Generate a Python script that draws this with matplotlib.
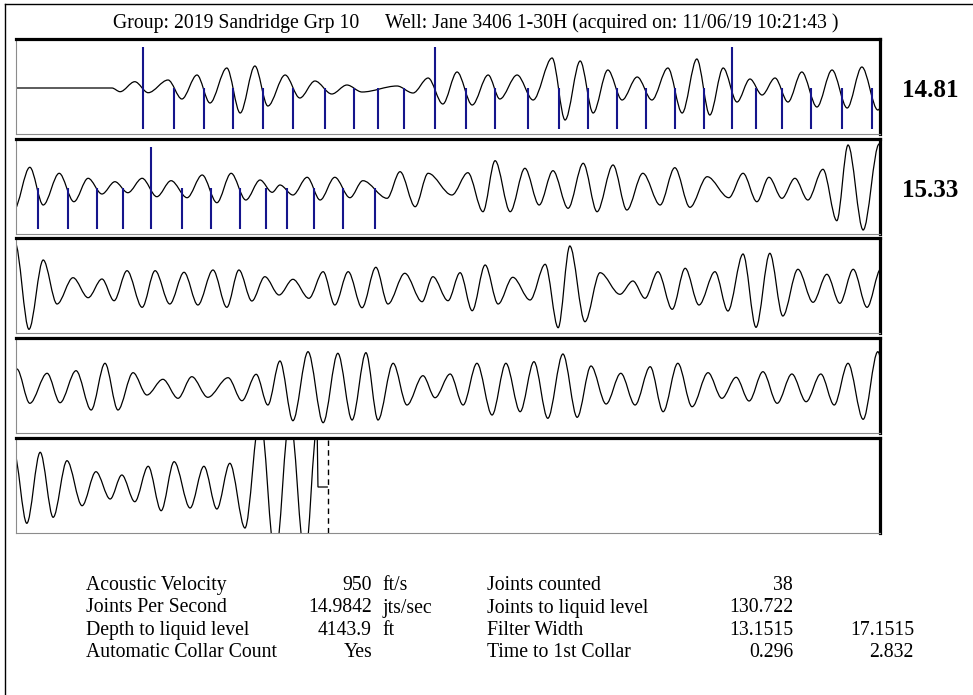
import matplotlib
matplotlib.use("Agg")
import matplotlib.pyplot as plt
from matplotlib.path import Path
from matplotlib.patches import PathPatch
from matplotlib.lines import Line2D

plt.rcParams["font.family"] = ["Liberation Serif", "DejaVu Serif"]

# acoustic trace: peaks/troughs (time in s, amplitude)
trace_t = [
    0.000, 0.222, 0.241, 0.275, 0.306, 0.352, 0.384, 0.419, 0.449, 0.488,
    0.519, 0.553, 0.583, 0.623, 0.657, 0.692, 0.731, 0.766, 0.801, 0.882,
    0.919, 0.954, 0.988, 1.021, 1.056, 1.093, 1.120, 1.160, 1.197, 1.241,
    1.271, 1.306, 1.336, 1.370, 1.403, 1.438, 1.472, 1.509, 1.542, 1.576,
    1.606, 1.637, 1.669, 1.699, 1.727, 1.757, 1.787, 1.819, 1.854, 1.889,
    1.924, 1.958, 1.995,
    2.032, 2.063, 2.100, 2.134, 2.167, 2.199, 2.229, 2.259, 2.292, 2.326,
    2.359, 2.396, 2.431, 2.465, 2.498, 2.532, 2.565, 2.593, 2.611, 2.641,
    2.674, 2.704, 2.738, 2.773, 2.803, 2.859, 2.889, 2.924, 2.954, 3.009,
    3.046, 3.081, 3.109, 3.144, 3.178, 3.211, 3.243, 3.278, 3.313, 3.345,
    3.382, 3.414, 3.451, 3.491, 3.525, 3.560, 3.600, 3.650, 3.683, 3.715,
    3.743, 3.773, 3.803, 3.833, 3.868, 3.900, 3.926, 3.961, 3.998,
    4.030, 4.063, 4.095, 4.132, 4.167, 4.199, 4.227, 4.257, 4.292, 4.322,
    4.356, 4.389, 4.421, 4.456, 4.488, 4.516, 4.546, 4.576, 4.609, 4.641,
    4.678, 4.711, 4.738, 4.769, 4.801, 4.833, 4.861, 4.900, 4.940, 4.965,
    5.000, 5.028, 5.056, 5.086, 5.116, 5.150, 5.190, 5.225, 5.255, 5.282,
    5.317, 5.352, 5.398, 5.428, 5.456, 5.486, 5.519, 5.549, 5.581, 5.618,
    5.648, 5.683, 5.713, 5.745, 5.775, 5.810, 5.845, 5.877, 5.907, 5.938,
    5.970, 6.002,
    6.032, 6.072, 6.102, 6.139, 6.174, 6.206, 6.236, 6.271, 6.303, 6.340,
    6.375, 6.407, 6.444, 6.491, 6.523, 6.556, 6.583, 6.611, 6.641, 6.676,
    6.711, 6.745, 6.778, 6.810, 6.838, 6.873, 6.905, 6.942, 6.970, 7.005,
    7.035, 7.067, 7.102, 7.134, 7.167, 7.199, 7.231, 7.266, 7.299, 7.331,
    7.366, 7.400, 7.433, 7.468, 7.498, 7.532, 7.565, 7.602, 7.634, 7.667,
    7.697, 7.729, 7.762, 7.796, 7.829, 7.863, 7.894, 7.926, 7.961, 7.995,
    8.025, 8.056, 8.086, 8.118, 8.153, 8.185, 8.218, 8.245, 8.275, 8.306,
    8.336, 8.366, 8.403, 8.435, 8.465, 8.495, 8.530, 8.565, 8.600, 8.634,
    8.669, 8.697,
]
trace_a = [
    0, 0, -3.7, 6.3, -4.7, 8, -11, 13, -15, 20,
    -25, 22, -18, 13, -10, 7, -6, 3, -4, 2,
    -5, 10, -16, 16, -17, 13, -11, 13, -12, 30,
    -32, 27, -25, 18, -12, 11, -12, 20, -25, 29,
    -27, 20, -14, 9, -7, 10, -14, 16, -19, 18,
    -20, 21, -22,
    20.7, -17, 14.7, -13.7, 9.7, -6, 6.3, -4.7, 9.7, -8.7,
    7.3, -9.7, 13, -14.7, 14.7, -12, 8, -4.3, 3, -7,
    10.7, -12, 10.7, -9.7, 7.3, -10.3, 16.3, -18.7, 14.7, -7,
    15.3, -23.7, 27.3, -23.7, 19.7, -17, 17.3, -20.3, 24.7, -23.7,
    23, -22, 14.7, -17, 20.3, -19.3, 11.3, -9.7, 14.7, -13.7,
    10.7, -10.3, 9.7, -12, 18.7, -32.7, 43, -42, 44,
    -42.3, 27, -17, 9.3, -10.7, 8, -13.7, 16.3, -20.3, 16.3,
    -17, 14.7, -18, 17, -20.3, 17, -14, 10.3, -8, 7.7,
    -11.3, 15.3, -18, 15.3, -20.7, 19.7, -17, 13.7, -14.7, 10.3,
    -13.7, 14.3, -23.7, 22, -17, 9.7, -13, 22.7, -40.7, 41,
    -34.7, 14.3, -7.3, 6, -11.3, 15.3, -22.3, 18.7, -18, 15.3,
    -24, 33, -40.3, 33.7, -29, 17.7, -15.3, 12.7, -16.3, 17.7,
    -20.3, 18,
    -16.3, 13.7, -15.7, 16.3, -23, 23.7, -23, 14.3, -8, 7.7,
    -11.3, 10.3, -10.3, 9.3, -13.7, 12.7, -18, 26, -33.7, 35.3,
    -35.7, 33.7, -33, 34.3, -33, 23.7, -18, 11.3, -10.7, 13,
    -18, 23.7, -28, 23.7, -24.7, 25.3, -31.3, 33, -30.3, 21,
    -17, 13.7, -18, 20.3, -24.7, 23.7, -19.7, 14.3, -11.3, 9.7,
    -14, 15.3, -16.3, 13, -14.7, 13, -18, 23.7, -32.3, 35.3,
    -36.3, 34.7, -30.3, 26.3, -18.7, 15.3, -12, 12, -14.7, 20.7,
    -23.7, 25.3, -21, 20.7, -22, 23.7, -41, 72, -72, 72,
    -72, 60,
]
# trace end after the liquid level echo
tail_t = [8.699, 8.722]
tail_a = [0, 0]

# collar marks (s); every 10th one drawn long
collar_t = [
    0.294, 0.366, 0.435, 0.502, 0.572, 0.641, 0.715, 0.782, 0.838, 0.898,
    0.970, 1.042, 1.109, 1.185, 1.257, 1.324, 1.391, 1.458, 1.525, 1.593,
    1.657, 1.713, 1.773, 1.840, 1.912, 1.981, 2.051, 2.120, 2.188, 2.248,
    2.313, 2.384, 2.451, 2.519, 2.579, 2.627, 2.690, 2.757, 2.831,
]
liquid_t = 8.722

strip_labels = ["14.81", "15.33", "", "", ""]
strip_seconds = 2.0

title_left = "Group: 2019 Sandridge Grp 10"
title_right = "Well: Jane 3406 1-30H (acquired on: 11/06/19 10:21:43 )"

left_labels = ["Acoustic Velocity", "Joints Per Second", "Depth to liquid level",
               "Automatic Collar Count"]
left_values = ["950", "14.9842", "4143.9", "Yes"]
left_units = ["ft/s", "jts/sec", "ft", ""]
right_labels = ["Joints counted", "Joints to liquid level", "Filter Width",
                "Time to 1st Collar"]
right_values = ["38", "130.722", "13.1515", "0.296"]
right_values2 = ["", "", "17.1515", "2.832"]

W, H = 973, 695
FS = 14.2


def fx(px):
    return px / W


def fy(py):
    return 1 - py / H


def trace_path():
    verts = [(trace_t[0], trace_a[0])]
    codes = [Path.MOVETO]
    for i in range(1, len(trace_t)):
        t0, a0 = trace_t[i - 1], trace_a[i - 1]
        t1, a1 = trace_t[i], trace_a[i]
        d = (t1 - t0) / 3
        verts += [(t0 + d, a0), (t1 - d, a1), (t1, a1)]
        codes += [Path.CURVE4] * 3
    for t, a in zip(tail_t, tail_a):
        verts.append((t, a))
        codes.append(Path.LINETO)
    return Path(verts, codes)


fig = plt.figure(figsize=(W / 100, H / 100), dpi=100)

tall = [t for i, t in enumerate(collar_t) if i % 10 == 0]
short = [t for i, t in enumerate(collar_t) if i % 10 != 0]

strip_tops = [39, 139, 238, 338, 438]
for k, top in enumerate(strip_tops):
    ax = fig.add_axes([fx(16), fy(top + 95), fx(880) - fx(16), 95 / H])
    ax.add_patch(PathPatch(trace_path(), fill=False, ec="black", lw=0.9))
    ax.vlines(short, -41, 0, color="#15158c", lw=1.5, zorder=3)
    ax.vlines(tall, -41, 41, color="#15158c", lw=1.5, zorder=3)
    if k == 4:
        ax.axvline(liquid_t, color="black", lw=1.0, ls=(0, (4, 3)))
    ax.set_xlim(k * strip_seconds, (k + 1) * strip_seconds)
    ax.set_ylim(-46, 49)
    ax.set_xticks([])
    ax.set_yticks([])
    for side in ["top", "right"]:
        ax.spines[side].set_linewidth(2.3)
        ax.spines[side].set_color("black")
    for side in ["left", "bottom"]:
        ax.spines[side].set_linewidth(0.8)
        ax.spines[side].set_color("#8c8c8c")
    if strip_labels[k]:
        fig.text(fx(930), fy(top + 58), strip_labels[k], ha="center",
                 va="baseline", fontsize=18, fontweight="bold")

# page frame
fig.add_artist(Line2D([fx(5), 1], [fy(4), fy(4)], transform=fig.transFigure,
                      color="black", lw=1.0))
fig.add_artist(Line2D([fx(5), fx(5)], [fy(4), 0], transform=fig.transFigure,
                      color="black", lw=1.0))

fig.text(fx(113), fy(28), title_left, ha="left", va="baseline", fontsize=FS)
fig.text(fx(385), fy(28), title_right, ha="left", va="baseline", fontsize=FS)

row_y = [590, 612.5, 635, 657]
for i, y in enumerate(row_y):
    fig.text(fx(86), fy(y), left_labels[i], ha="left", va="baseline", fontsize=FS)
    fig.text(fx(372), fy(y), left_values[i], ha="right", va="baseline", fontsize=FS)
    fig.text(fx(382), fy(y), left_units[i], ha="left", va="baseline", fontsize=FS)
    fig.text(fx(487), fy(y), right_labels[i], ha="left", va="baseline", fontsize=FS)
    fig.text(fx(793), fy(y), right_values[i], ha="right", va="baseline", fontsize=FS)
    fig.text(fx(914), fy(y), right_values2[i], ha="right", va="baseline", fontsize=FS)

fig.savefig("out.png", dpi=100)
